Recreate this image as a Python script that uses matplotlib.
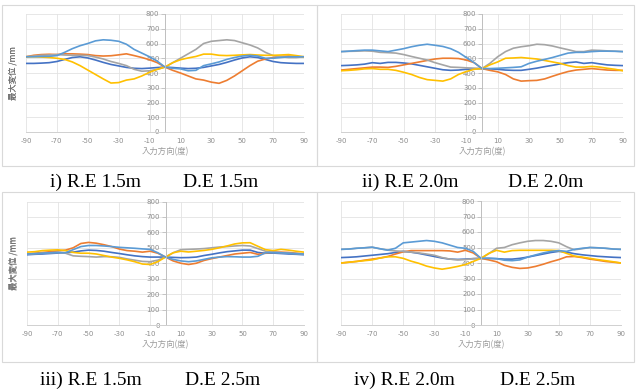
import numpy as np
import matplotlib
matplotlib.use("Agg")
import matplotlib.pyplot as plt
from matplotlib.patches import Rectangle

plt.rcParams["axes.unicode_minus"] = False

# angulos cada 5 grados
angulos = list(range(-90, 91, 5))

# Panel i) R.E 1.5m D.E 1.5m
i_azul = [465, 465, 467, 470, 478, 492, 505, 510, 502, 488, 472, 458, 448, 438, 432, 430, 433, 437, 440,
          437, 433, 430, 432, 438, 448, 458, 472, 488, 502, 510, 505, 492, 478, 470, 467, 465, 465]
i_naranja = [510, 520, 525, 527, 525, 530, 530, 528, 525, 518, 515, 517, 523, 530, 518, 505, 490, 470, 440,
             418, 400, 380, 360, 352, 338, 330, 350, 380, 415, 450, 480, 495, 505, 512, 515, 510, 510]
i_gris = [510, 515, 520, 522, 525, 522, 520, 520, 518, 508, 495, 478, 465, 450, 425, 412, 415, 425, 440,
          470, 500, 530, 560, 600, 615, 620, 625, 620, 605, 590, 570, 540, 518, 510, 505, 505, 510]
i_amarillo = [510, 510, 508, 505, 500, 492, 475, 450, 420, 390, 360, 332, 335, 352, 360, 380, 405, 425, 440,
              470, 490, 502, 512, 528, 528, 520, 518, 520, 523, 525, 522, 520, 520, 522, 525, 518, 510]
i_celeste = [510, 510, 512, 513, 518, 540, 565, 585, 600, 618, 625, 622, 615, 595, 560, 535, 510, 480, 440,
             432, 428, 415, 418, 450, 462, 475, 492, 505, 515, 520, 515, 500, 500, 505, 510, 510, 510]

# Panel ii) R.E 2.0m D.E 2.0m
ii_azul = [450, 452, 455, 460, 470, 465, 472, 472, 468, 462, 452, 442, 432, 422, 418, 420, 425, 428, 430,
           428, 425, 420, 418, 418, 425, 433, 443, 452, 462, 470, 475, 465, 470, 462, 455, 452, 450]
ii_naranja = [420, 425, 430, 435, 440, 440, 438, 445, 455, 465, 475, 485, 495, 500, 500, 498, 488, 470, 430,
              418, 408, 390, 360, 345, 348, 350, 360, 378, 395, 410, 420, 425, 430, 425, 420, 418, 418]
ii_gris = [545, 547, 548, 550, 548, 540, 538, 535, 525, 512, 500, 488, 470, 455, 440, 438, 435, 433, 430,
           465, 510, 545, 568, 578, 585, 595, 592, 583, 570, 558, 545, 545, 555, 553, 550, 548, 545]
ii_amarillo = [415, 418, 422, 428, 430, 425, 425, 418, 405, 390, 370, 355, 350, 345, 360, 390, 410, 425, 430,
               455, 475, 500, 502, 505, 500, 495, 485, 475, 465, 450, 440, 440, 445, 440, 432, 425, 415]
ii_celeste = [545, 548, 552, 555, 555, 550, 545, 555, 565, 578, 588, 595, 588, 580, 565, 540, 505, 470, 430,
              430, 432, 435, 438, 442, 465, 480, 492, 505, 520, 535, 540, 540, 545, 548, 548, 547, 545]

# Panel iii) R.E 1.5m D.E 2.5m
iii_azul = [455, 458, 460, 463, 466, 468, 472, 480, 485, 483, 478, 470, 463, 455, 448, 443, 440, 440, 440,
            438, 436, 437, 440, 450, 458, 467, 475, 480, 485, 485, 470, 465, 466, 463, 460, 458, 455]
iii_naranja = [460, 465, 470, 475, 480, 485, 500, 528, 535, 530, 520, 508, 492, 482, 478, 472, 478, 465, 440,
               415, 400, 392, 400, 418, 430, 440, 450, 460, 465, 470, 458, 465, 472, 472, 470, 465, 460]
iii_gris = [460, 462, 465, 468, 470, 465, 448, 445, 443, 440, 443, 442, 438, 428, 420, 412, 410, 420, 440,
            468, 488, 490, 492, 495, 500, 505, 508, 512, 515, 512, 495, 478, 470, 468, 465, 462, 460]
iii_amarillo = [472, 475, 482, 485, 487, 482, 470, 465, 465, 460, 450, 440, 432, 422, 410, 395, 392, 410, 440,
                468, 478, 473, 478, 483, 490, 500, 512, 525, 532, 533, 510, 488, 482, 490, 485, 478, 472]
iii_celeste = [460, 462, 465, 468, 470, 468, 488, 508, 515, 515, 512, 508, 503, 500, 497, 493, 490, 468, 440,
               425, 415, 410, 415, 425, 435, 440, 443, 442, 440, 440, 445, 468, 470, 468, 465, 462, 460]

# Panel iv) R.E 2.0m D.E 2.5m
iv_azul = [435, 437, 440, 445, 450, 455, 460, 468, 475, 470, 462, 452, 442, 432, 425, 423, 425, 428, 430,
           430, 428, 425, 425, 430, 438, 448, 458, 468, 475, 470, 460, 453, 448, 443, 440, 437, 435]
iv_naranja = [400, 405, 410, 418, 425, 432, 442, 458, 472, 480, 480, 480, 480, 480, 478, 470, 482, 465, 430,
              420, 408, 385, 372, 365, 368, 378, 392, 408, 422, 440, 442, 435, 425, 418, 410, 405, 400]
iv_gris = [488, 490, 495, 498, 502, 492, 483, 478, 475, 470, 465, 458, 450, 435, 425, 420, 422, 428, 430,
           460, 495, 500, 518, 530, 540, 545, 545, 540, 530, 505, 485, 492, 500, 498, 495, 490, 488]
iv_amarillo = [400, 405, 410, 415, 420, 432, 440, 440, 430, 412, 398, 380, 368, 360, 368, 378, 390, 410, 430,
               462, 482, 470, 480, 482, 482, 482, 482, 482, 480, 462, 445, 438, 430, 422, 415, 408, 400]
iv_celeste = [488, 490, 495, 498, 502, 492, 483, 495, 530, 535, 540, 545, 540, 530, 515, 500, 495, 475, 430,
              430, 428, 418, 415, 420, 438, 452, 465, 475, 480, 475, 488, 495, 500, 498, 495, 490, 488]

titulos = [("i) R.E 1.5m", "D.E 1.5m"), ("ii) R.E 2.0m", "D.E 2.0m"),
           ("iii) R.E 1.5m", "D.E 2.5m"), ("iv) R.E 2.0m", "D.E 2.5m")]
x_ticks = list(range(-90, 91, 20))
y_ticks = list(range(0, 801, 100))

colores = ["#4472C4", "#ED7D31", "#A5A5A5", "#FFC000", "#5B9BD5"]
paneles = [
    [i_azul, i_naranja, i_gris, i_amarillo, i_celeste],
    [ii_azul, ii_naranja, ii_gris, ii_amarillo, ii_celeste],
    [iii_azul, iii_naranja, iii_gris, iii_amarillo, iii_celeste],
    [iv_azul, iv_naranja, iv_gris, iv_amarillo, iv_celeste],
]

W, H = 637, 389
fig = plt.figure(figsize=(W / 100, H / 100), dpi=100)
fuente_jp = ["Noto Sans CJK JP", "DejaVu Sans"]

# (izq, der, arriba, abajo) en pixeles del area de trazado
ejes_px = [(26, 304, 14, 132), (341, 623, 14, 132), (27, 304, 201.5, 325), (341, 621, 201, 325)]
# marcos de cada grafico
marcos_px = [(2, 317, 5, 166), (317, 634, 5, 166), (2, 317, 192.5, 361.5), (317, 634, 192.5, 361.5)]
# posicion de los textos de abajo
pie_px = [(50, 183, 187), (362, 508, 187), (40, 185, 385), (354, 500, 385)]

for k in range(4):
    x0, x1, y0, y1 = marcos_px[k]
    fig.patches.append(Rectangle((x0 / W, 1 - y1 / H), (x1 - x0) / W, (y1 - y0) / H,
                                 transform=fig.transFigure, fill=False, edgecolor="#d9d9d9", lw=0.8))

    l, r, t, b = ejes_px[k]
    ax = fig.add_axes([l / W, 1 - b / H, (r - l) / W, (b - t) / H])
    for serie, c in zip(paneles[k], colores):
        ax.plot(angulos, serie, color=c, lw=1.2, solid_joinstyle="round")

    ax.set_xlim(-90, 90)
    ax.set_ylim(0, 800)
    ax.set_xticks(x_ticks)
    ax.set_yticks(y_ticks)
    ax.grid(True, color="#e3e3e3", lw=0.6)
    ax.set_axisbelow(True)
    for s in ["top", "right"]:
        ax.spines[s].set_visible(False)
    ax.spines["left"].set_position(("data", 0))
    ax.spines["left"].set_color("#bfbfbf")
    ax.spines["left"].set_linewidth(0.7)
    ax.spines["bottom"].set_color("#d0d0d0")
    ax.spines["bottom"].set_linewidth(0.7)
    ax.tick_params(axis="y", length=3, width=0.6, color="#bfbfbf", pad=1,
                   labelsize=5, labelcolor="#8c8c8c")
    ax.tick_params(axis="x", length=0, pad=4, labelsize=5, labelcolor="#8c8c8c")

    ax.set_xlabel("入力方向(度)", family=fuente_jp, fontsize=6, color="#9a9a9a", labelpad=2.5)
    ax.set_ylabel("最大変位 /mm", family=fuente_jp, fontsize=6, color="#707070")
    ax.yaxis.set_label_coords((18 - l) / (r - l), 0.5)

    a, b2, yb = pie_px[k]
    fig.text(a / W, 1 - yb / H, titulos[k][0], family="Liberation Serif", fontsize=14,
             va="baseline", ha="left")
    fig.text(b2 / W, 1 - yb / H, titulos[k][1], family="Liberation Serif", fontsize=14,
             va="baseline", ha="left")

fig.savefig("out.png", dpi=100)
